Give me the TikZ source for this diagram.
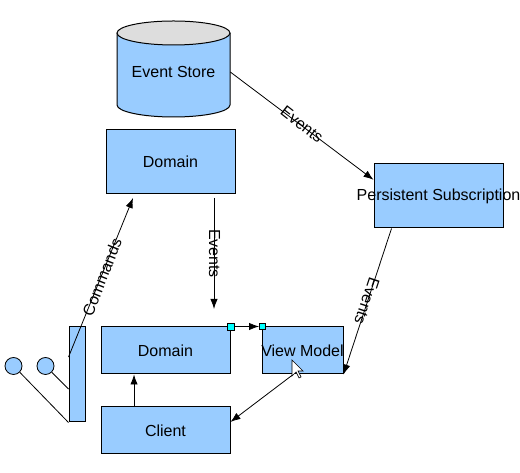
\documentclass[tikz,border=0pt]{standalone}
\usepackage{fontspec}
\setmainfont{Liberation Sans}
\usetikzlibrary{arrows.meta}
\definecolor{boxblue}{RGB}{153,204,255}
\definecolor{topgray}{RGB}{221,221,221}
\definecolor{handle}{RGB}{0,255,255}

\begin{document}
\begin{tikzpicture}[x=0.75pt,y=0.75pt,
  every node/.style={font=\fontsize{12pt}{14pt}\selectfont},
  box/.style={draw,fill=boxblue,line width=0.75pt,inner sep=0pt,minimum width=96.75pt},
  conn/.style={line width=0.6pt,->,>={Latex[length=7.5pt,width=5.5pt]}},
  grip/.style={draw,fill=handle,inner sep=0pt,line width=0.6pt},
  actor/.style={draw,fill=boxblue,circle,minimum size=12.75pt,inner sep=0pt,line width=0.6pt}]
\useasboundingbox (0,0) rectangle (520,473);
% event store
\fill[boxblue] (117,440) -- (117,368) arc[start angle=180,end angle=360,x radius=42.375pt,y radius=9pt] -- (230,440) -- cycle;
\draw[line width=0.75pt] (117,440) -- (117,368) arc[start angle=180,end angle=360,x radius=42.375pt,y radius=9pt] -- (230,440);
\draw[line width=0.75pt,fill=topgray] (173.5,440) ellipse[x radius=42.375pt,y radius=9pt];
\node[minimum width=84.75pt,minimum height=72pt,inner sep=0pt] (store) at (173.5,401) {Event Store};
% boxes
\node[box,minimum height=48pt] (dom) at (170.5,311) {Domain};
\node[box,minimum height=48pt] (sub) at (438.5,277) {\makebox[0pt]{Persistent Subscription}};
\node[box,minimum height=35.25pt] (dom2) at (165.5,122.5) {Domain};
\node[box,minimum height=35.25pt,minimum width=60.75pt] (vm) at (302.5,122.5) {\makebox[0pt]{View Model}};
\node[box,minimum height=35.25pt] (client) at (165.5,42.5) {Client};
\node[box,minimum width=12pt,minimum height=71.25pt] (bar) at (77,98.5) {};
\node[actor] (c1) at (13.5,107) {};
\node[actor] (c2) at (45.5,107) {};
\node[grip,minimum size=5.25pt] (g1) at (230.5,146.5) {};
\node[grip,minimum size=4.5pt] (g2) at (262.5,146.5) {};
% free ends
\coordinate (cmdend) at (133,275);
\coordinate (evtop) at (214,275);
\coordinate (evend) at (214,164);
% connectors
\draw[conn] (store.east) -- (sub.166);
\draw[conn] (evtop) -- (evend);
\draw[conn] ([xshift=13.5pt]sub.south west) -- (vm.south east);
\draw[conn] ([xshift=-7pt]vm.south) -- ([yshift=6.4pt]client.east);
\draw[conn] ([xshift=-23.6pt]client.north) -- ([xshift=-23.6pt]dom2.south);
\draw[conn] ([yshift=13.1pt]bar.west) -- (cmdend);
\draw[conn] (g1.east) -- (g2.west);
\draw[line width=0.6pt] (c1.-45) -- (bar.south west);
\draw[line width=0.6pt] (c2.-45) -- ([yshift=-10.9pt]bar.west);
% labels
\node[rotate=-38] (ev1) at (302,348.5) {Events};
\node[rotate=-90] (ev2) at (214.5,219.5) {Events};
\node[rotate=-108.4] (ev3) at (367,172) {Events};
\node[rotate=68.4] (cmd) at (102,196) {Commands};
% pointer
\draw[fill=white,line width=0.5pt] (292,113) -- (292,97) -- (296,101) -- (299,95) -- (301,96) -- (298,102) -- (303,102) -- cycle;
\end{tikzpicture}
\end{document}
